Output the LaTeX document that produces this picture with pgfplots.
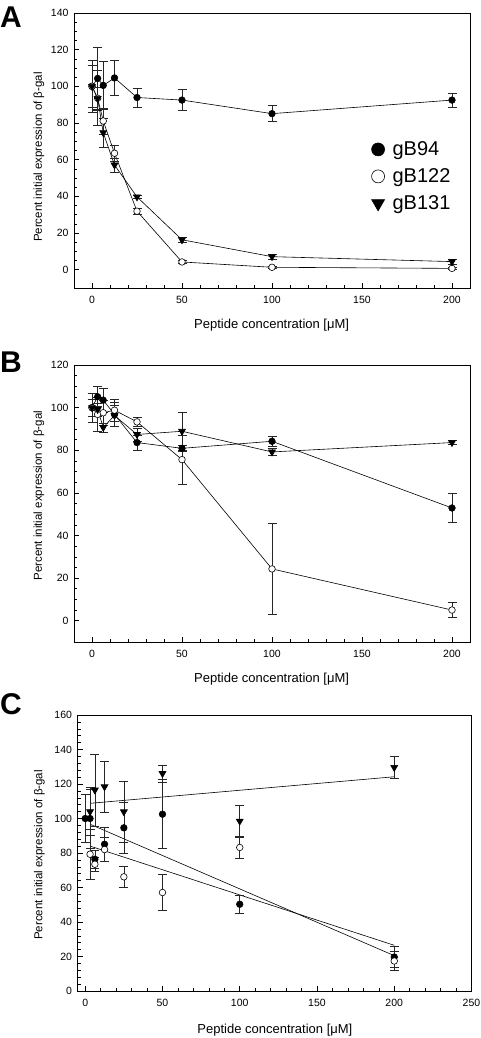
\documentclass[border=0pt]{standalone}
\usepackage{pgfplots}
\pgfplotsset{compat=1.18}
\usepackage{fontspec}
\setmainfont{Liberation Sans}
\pgfplotsset{
  panel/.style={
    scale only axis, anchor=north west,
    tick align=inside, xtick pos=bottom, ytick pos=left,
    major tick length=5pt, minor tick length=3pt,
    tick style={black, line width=0.5pt},
    axis line style={line width=0.7pt},
    ticklabel style={font=\fontsize{10.5}{12}\selectfont},
    /pgf/number format/assume math mode=true,
    xticklabel style={yshift=-5pt},
    yticklabel style={xshift=-2pt},
    xlabel={Peptide concentration [μM]},
    ylabel={Percent initial expression of β-gal},
    xlabel style={font=\fontsize{13}{14}\selectfont, anchor=center},
    ylabel style={font=\fontsize{11.5}{14}\selectfont, anchor=center},
    legend image code/.code={\draw[#1, line width=0.6pt] plot coordinates {(0pt,0pt)};},
  },
  ebar/.style={error bars/.cd, y dir=both, y explicit,
    error bar style={line width=0.6pt, black!85},
    error mark options={rotate=90, mark size=4.5pt, line width=0.6pt, black!85}},
  s94/.style={black, line width=0.6pt, mark=*, mark size=3.3pt, mark options={solid, fill=black}},
  s122/.style={black, line width=0.6pt, mark=*, mark size=3.3pt, mark options={solid, fill=white, draw=black}},
  s131/.style={black, line width=0.6pt, mark=triangle*, mark size=4pt, mark options={solid, fill=black, rotate=180}},
}
\begin{document}
\begin{tikzpicture}
\path[use as bounding box] (0pt,0pt) rectangle (480pt,-1038pt);
% ---------------- Panel A
\begin{axis}[panel, at={(74pt,-13pt)}, width=396pt, height=275pt,
  xmin=-10, xmax=210, xtick={0,50,100,150,200}, minor x tick num=4,
  ymin=-10, ymax=140, ytick={0,20,...,140}, minor y tick num=3,
  xlabel style={at={(axis description cs:0.499,-0.135)}},
  ylabel style={at={(axis description cs:-0.0884,0.476)}},
  legend style={draw=none, fill=none, at={(0.751,0.54)}, anchor=north west,
    font=\fontsize{20}{22}\selectfont, row sep=7.5pt, inner sep=0pt,
    /tikz/every odd column/.append style={column sep=6pt}},
  legend cell align=left]
\addplot[s94, forget plot, ebar] coordinates {
 (0,100) +- (0,14.3) (3.125,104.3) +- (0,17.2) (6.25,100.5) +- (0,13.2) (12.5,104.6) +- (0,9.5)
 (25,93.9) +- (0,5.3) (50,92.5) +- (0,5.8) (100,85.1) +- (0,4.4) (200,92.5) +- (0,3.8)};
\addplot[s122, forget plot, ebar] coordinates {
 (0,100) +- (0,11.5) (3.125,93.5) +- (0,15) (6.25,81.1) +- (0,7) (12.5,63.5) +- (0,4.3)
 (25,31.9) +- (0,1.8) (50,4.2) +- (0,0.8) (100,1.3) +- (0,0.5) (200,0.7) +- (0,0.5)};
\addplot[s131, forget plot, ebar] coordinates {
 (0,100) +- (0,11.5) (3.125,93.4) +- (0,6) (6.25,74.7) +- (0,7.7) (12.5,57.1) +- (0,3.8)
 (25,39.7) +- (0,1) (50,16.3) +- (0,1.2) (100,7.1) +- (0,1.5) (200,4.4) +- (0,1.2)};
\addlegendimage{s94, mark size=6.5pt}
\addlegendentry{gB94}
\addlegendimage{s122, mark size=6.5pt}
\addlegendentry{gB122}
\addlegendimage{s131, mark size=7.5pt}
\addlegendentry{gB131}
\end{axis}
% ---------------- Panel B
\begin{axis}[panel, at={(74pt,-365pt)}, width=396pt, height=277pt,
  xmin=-10, xmax=210, xtick={0,50,100,150,200}, minor x tick num=4,
  ymin=-10, ymax=120, ytick={0,20,...,120}, minor y tick num=3,
  xlabel style={at={(axis description cs:0.499,-0.134)}},
  ylabel style={at={(axis description cs:-0.0884,0.528)}}]
\addplot[s94, ebar] coordinates {
 (0,100) +- (0,6.8) (3.125,105.1) +- (0,4.7) (6.25,103.5) +- (0,5.5) (12.5,96.8) +- (0,5.5)
 (25,83.6) +- (0,3.5) (50,80.9) +- (0,1.5) (100,84.2) +- (0,2.4) (200,52.9) +- (0,6.7)};
\addplot[s122, ebar] coordinates {
 (0,100) +- (0,6.8) (3.125,96.8) +- (0,8) (6.25,97.6) +- (0,6) (12.5,98.8) +- (0,5)
 (25,93.3) +- (0,2.2) (50,75.6) +- (0,11.5) (100,24.3) +- (0,21.2) (200,5.0) +- (0,3.5)};
\addplot[s131, ebar] coordinates {
 (0,100) +- (0,4) (3.125,99.1) +- (0,3) (6.25,90.7) +- (0,2.1) (12.5,96.3) +- (0,5)
 (25,87.4) +- (0,3) (50,88.9) +- (0,9) (100,79.2) +- (0,1.5) (200,83.6) +- (0,1)};
\end{axis}
% ---------------- Panel C
\begin{axis}[panel, at={(77.5pt,-715pt)}, width=394pt, height=276pt,
  xmin=-5, xmax=250, xtick={0,50,100,150,200,250}, minor x tick num=4,
  ymin=0, ymax=160, ytick={0,20,...,160}, minor y tick num=4,
  xlabel style={at={(axis description cs:0.501,-0.141)}},
  ylabel style={at={(axis description cs:-0.0965,0.493)}}]
\addplot[black, line width=0.6pt, no marks] coordinates {(3.125,108.8) (200,124.2)};
\addplot[black, line width=0.6pt, no marks] coordinates {(3.125,96.7) (200,20.5)};
\addplot[black, line width=0.6pt, no marks] coordinates {(3.125,84.0) (200,26.5)};
\addplot[s94, only marks, ebar] coordinates {
 (0,100) +- (0,14) (3.125,100) +- (0,17) (6.25,76.4) +- (0,5) (12.5,85.1) +- (0,9.7)
 (25,94.6) +- (0,15) (50,102.5) +- (0,20) (100,50.3) +- (0,5.3) (200,19.7) +- (0,6)};
\addplot[s122, only marks, ebar] coordinates {
 (3.125,79.3) +- (0,14.5) (6.25,73.5) +- (0,4) (12.5,82) +- (0,7)
 (25,66.2) +- (0,6) (50,57.1) +- (0,10.4) (100,83.2) +- (0,6) (200,17.4) +- (0,5.5)};
\addplot[s131, only marks, ebar] coordinates {
 (3.125,104) +- (0,14) (6.25,116.5) +- (0,21) (12.5,118.4) +- (0,15)
 (25,103.9) +- (0,17.5) (50,126.1) +- (0,5) (100,98.5) +- (0,9) (200,129.6) +- (0,6.5)};
\end{axis}
% panel letters
\node[anchor=north west, inner sep=0pt, font=\bfseries\fontsize{30}{30}\selectfont] at (0pt,-6.7pt) {A};
\node[anchor=north west, inner sep=0pt, font=\bfseries\fontsize{30}{30}\selectfont] at (0pt,-351.7pt) {B};
\node[anchor=north west, inner sep=0pt, font=\bfseries\fontsize{30}{30}\selectfont] at (0pt,-693pt) {C};
\end{tikzpicture}
\end{document}
